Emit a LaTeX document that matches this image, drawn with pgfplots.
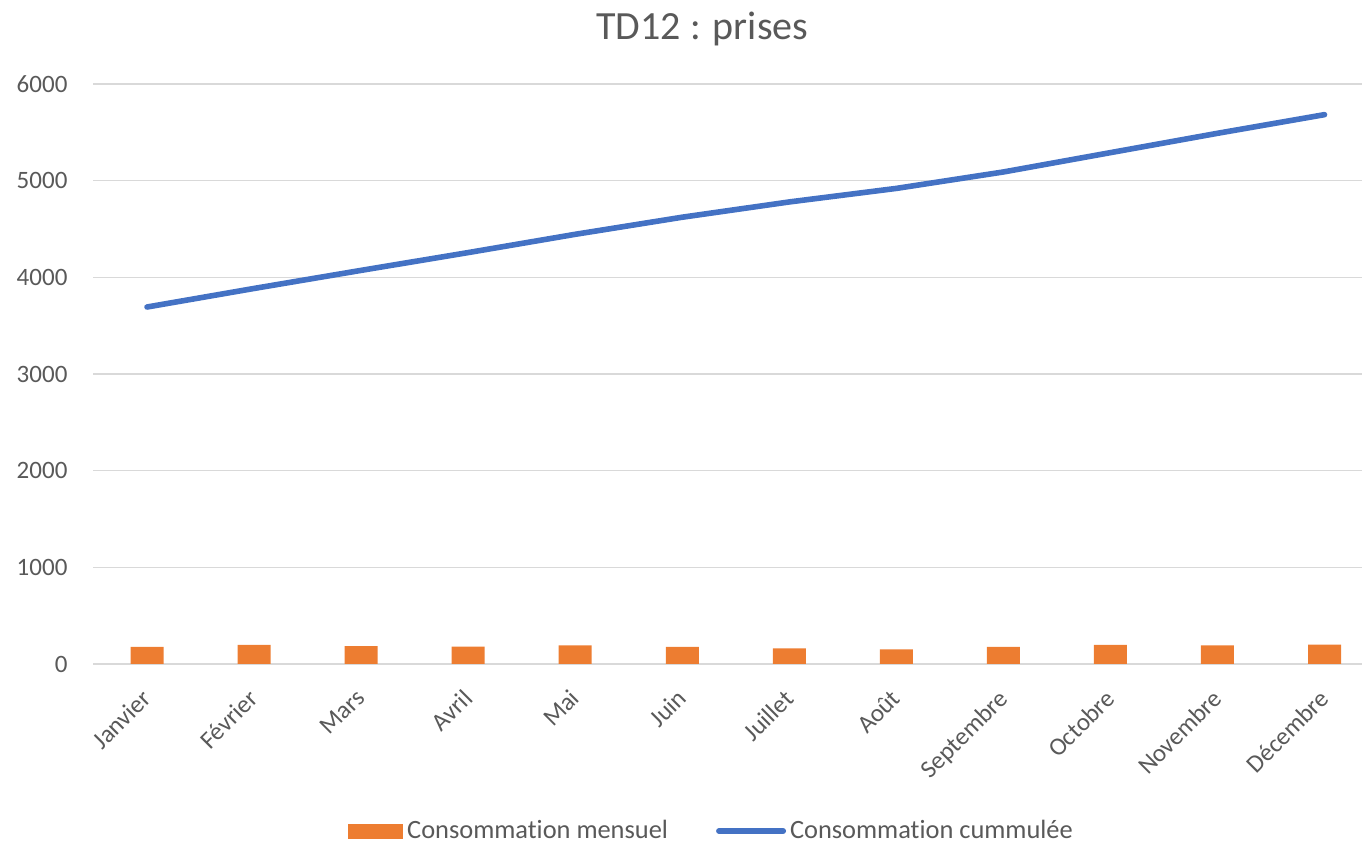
\documentclass[border=0pt]{standalone}
\usepackage{pgfplots}
\pgfplotsset{compat=1.18}
\usepackage{fontspec}
\setmainfont{Carlito}[Ligatures={NoCommon}]
\definecolor{barorange}{HTML}{ED7D31}
\definecolor{lineblue}{HTML}{4472C4}
\definecolor{txtgray}{HTML}{595959}
\definecolor{gridgray}{HTML}{D9D9D9}
\begin{document}
\begin{tikzpicture}
\begin{axis}[
  at={(0pt,0pt)}, anchor=south west,
  scale only axis,
  width=634.25pt, height=290pt,
  xmin=-0.5, xmax=11.35,
  ymin=0, ymax=6000,
  ytick={0,1000,2000,3000,4000,5000,6000},
  xtick={0,...,11},
  xticklabels={Janvier,Février,Mars,Avril,Mai,Juin,Juillet,Août,Septembre,Octobre,Novembre,Décembre},
  /pgf/number format/assume math mode=true,
  scaled y ticks=false,
  yticklabel style={/pgf/number format/1000 sep={}, font=\fontsize{12.5}{14}\selectfont, text=txtgray, xshift=-9.5pt},
  xticklabel style={rotate=45, anchor=north east, font=\fontsize{12.5}{14}\selectfont, text=txtgray, inner sep=0pt, xshift=-10.6pt, yshift=-6.1pt},
  major tick length=0pt,
  ymajorgrids, grid style={gridgray, line width=0.8pt},
  axis y line*=left,
  y axis line style={draw=none},
  axis x line*=bottom,
  x axis line style={gridgray, line width=0.8pt, -},
  title={TD12 : prises},
  title style={font=\fontsize{20}{22}\selectfont, text=txtgray, at={(0.48,1)}, anchor=base, yshift=16.5pt},
  legend style={draw=none, at={(0.488,-0.288)}, anchor=center, font=\fontsize{13.2}{15}\selectfont, text=txtgray, legend columns=2, /tikz/every even column/.append style={column sep=22pt}, inner sep=0pt},
]
\addplot[ybar, bar width=16.5pt, fill=barorange, draw=none,
  legend image code/.code={\fill[barorange] (0pt,-3.75pt) rectangle (27.5pt,3.75pt);}]
  coordinates {(0,176) (1,197) (2,186) (3,180) (4,193) (5,176) (6,162) (7,152) (8,178) (9,198) (10,193) (11,200)};
\addlegendentry{Consommation mensuel}
\addplot[lineblue, line width=2.8pt, line cap=round, line join=round,
  legend image code/.code={\draw[lineblue, line width=3pt, line cap=round] (0pt,0pt) -- (32pt,0pt);}]
  coordinates {(0,3693) (1,3885) (2,4072) (3,4256) (4,4445) (5,4622) (6,4780) (7,4920) (8,5090) (9,5290) (10,5490) (11,5683)};
\addlegendentry{Consommation cummulée}
\end{axis}
\pgfresetboundingbox
\path[use as bounding box] (-46.75pt,-90.5pt) rectangle (634.25pt,332pt);
\end{tikzpicture}
\end{document}
